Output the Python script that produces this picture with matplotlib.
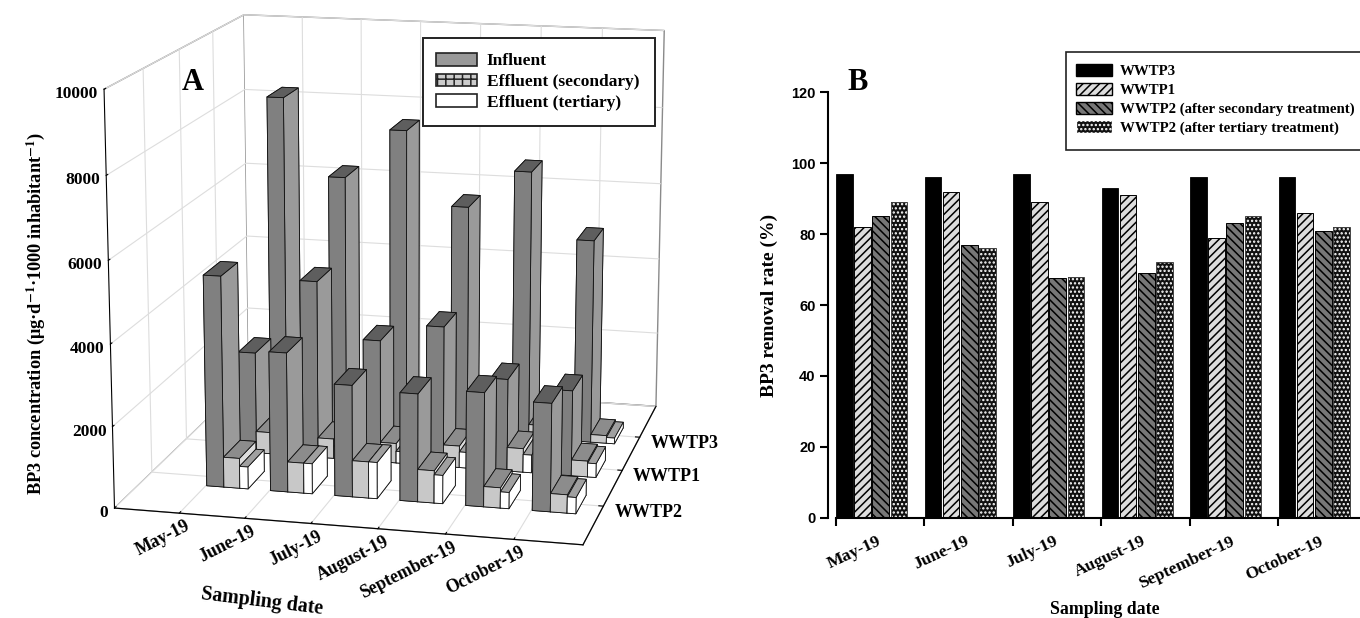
import numpy as np
import matplotlib
matplotlib.use('Agg')
import matplotlib.pyplot as plt
from matplotlib.patches import Patch, Rectangle
from matplotlib.transforms import ScaledTranslation
from mpl_toolkits.mplot3d import proj3d

plt.rcParams['font.family'] = ['Liberation Serif', 'DejaVu Sans']
plt.rcParams['font.weight'] = 'bold'
plt.rcParams['mathtext.fontset'] = 'stix'
plt.rcParams['hatch.linewidth'] = 1.1

months = ['May-19', 'June-19', 'July-19', 'August-19', 'September-19', 'October-19']
plants = ['WWTP2', 'WWTP1', 'WWTP3']

# panel A, ug/d/1000 inhabitant, rows in the order of plants
influent = [[5230, 3450, 2760, 2660, 2800, 2650],
            [2580, 4500, 3100, 3550, 2330, 2150],
            [8500, 6520, 7800, 5920, 6900, 5230]]
secondary = [[750, 750, 900, 800, 500, 450],
             [550, 500, 500, 550, 600, 400],
             [350, 300, 350, 300, 350, 200]]
tertiary = [[550, 750, 900, 700, 400, 400],
            [300, 300, 300, 400, 450, 350],
            [250, 200, 250, 250, 300, 150]]

# panel B, removal rate %
wwtp3_rate = [97, 96, 97, 93, 96, 96]
wwtp1_rate = [82, 92, 89, 91, 79, 86]
secondary_rate = [85, 77, 67.5, 69, 83, 81]
tertiary_rate = [89, 76, 68, 72, 85, 82]

fig = plt.figure(figsize=(13.6, 6.18), dpi=100)
W, H = 1360.0, 618.0

ax = fig.add_axes([20.0 / W, -22.1 / H, 741.0 / W, 741.0 / H], projection='3d')
ax.set_xlim3d(0, 7)
ax.set_ylim3d(0, 4)
ax.set_zlim3d(0, 10000)
ax.view_init(elev=13.76, azim=-76.61)
ax.set_proj_type('persp', focal_length=0.716)
ax.set_box_aspect((0.996, 1, 0.892))
ax.apply_aspect()

ax.computed_zorder = False
for a in (ax.xaxis, ax.yaxis, ax.zaxis):
    a.set_pane_color((1, 1, 1, 1))
    a.pane.set_edgecolor('#8a8a8a')
    a._axinfo['grid']['color'] = '#dddddd'
    a._axinfo['grid']['linewidth'] = 0.8
    a._axinfo['axisline']['color'] = '#333333'
    a._axinfo['tick']['inward_factor'] = 0.0
    a._axinfo['tick']['outward_factor'] = 0.12
ax.patch.set_alpha(0)
ax.zaxis.set_ticks_position('lower')

ax.set_xticks(range(1, 7))
ax.set_yticks([1, 2, 3])
ax.set_zticks(range(0, 10001, 2000))
ax.set_xticklabels([])
ax.set_yticklabels([])
ax.set_zticklabels([])


def label3d(px, py, pz, s, dx, dy, **kw):
    # tick labels of the 3d axes, placed from the projected tick position
    X, Y, _ = proj3d.proj_transform(px, py, pz, ax.get_proj())
    p = ax.transData.transform((X, Y))
    fig.text((p[0] + dx) / W, (p[1] + dy) / H, s, **kw)


for i, name in enumerate(months):
    label3d(i + 1, 0, 0, name, 10, -12, fontsize=12.9, rotation=27, ha='right', va='center',
            rotation_mode='anchor')
for i, name in enumerate(plants):
    label3d(7, i + 1, 0, name, 11, -6, fontsize=13, ha='left', va='center')
for v in range(0, 10001, 2000):
    label3d(0, 0, v, str(v), -6, -5, fontsize=12.5, ha='right', va='center')

# faces: bottom, top, front, back, left, right
infl_col = ['#808080', '#5e5e5e', '#808080', '#808080', '#808080', '#9a9a9a']
sec_col = ['#c8c8c8', '#8c8c8c', '#c8c8c8', '#c8c8c8', '#c8c8c8', '#dddddd']
ter_col = ['#ffffff', '#a0a0a0', '#ffffff', '#ffffff', '#ffffff', '#ffffff']

z = 1
for r in [2, 1, 0]:
    yy = r + 1 - 0.25
    for m in range(6):
        xx = m + 1 + 0.015
        for val, dx, off, col in [(influent[r][m], 0.27, 0.0, infl_col),
                                  (secondary[r][m], 0.25, 0.27, sec_col),
                                  (tertiary[r][m], 0.13, 0.52, ter_col)]:
            ax.bar3d(xx + off, yy, 0, dx, 0.5, val, color=col, edgecolor='#111111',
                     linewidth=0.6, shade=False, zorder=z)
            z += 1

fig.text(262 / W, 1 - 602 / H, 'Sampling date', fontsize=14.4, rotation=-7, ha='center', va='center')
fig.text(36 / W, 1 - 314 / H, 'BP3 concentration (\u03bcg\u00b7d$^{\\mathbf{-1}}$\u00b71000 inhabitant$^{\\mathbf{-1}}$)',
         fontsize=13.2, rotation=90, ha='center', va='center')
fig.text(193 / W, 1 - 83 / H, 'A', fontsize=22, ha='center', va='center')
fig.text(858 / W, 1 - 83 / H, 'B', fontsize=22, ha='center', va='center')

# legend frames are separate so the padding can differ per side
fig.add_artist(Rectangle((423 / W, 1 - 126 / H), 232 / W, 88 / H, transform=fig.transFigure,
                         fc='white', ec='#222222', lw=1.4, zorder=4))
handles_a = [Patch(fc='#999999', ec='#222222', lw=1.2),
             Patch(fc='#cccccc', ec='#222222', lw=1.2, hatch='++'),
             Patch(fc='white', ec='#222222', lw=1.2)]
leg_a = fig.legend(handles_a, ['Influent', 'Effluent (secondary)', 'Effluent (tertiary)'],
                   loc='upper left', bbox_to_anchor=(436 / W, 1 - 53 / H), fontsize=12.5,
                   frameon=False, handlelength=2.36, handleheight=0.75,
                   labelspacing=0.24, borderpad=0, handletextpad=0.57, borderaxespad=0)

# panel B, ticks sit on the left edge of each group
axb = fig.add_axes([828 / W, 1 - 517.7 / H, (1360 - 828) / W, 425.4 / H])
x = np.arange(6)
off = 0.1
step_b = 0.205
bw = 0.188
axb.bar(x + off, wwtp3_rate, bw, color='black', edgecolor='black', linewidth=0.6)
axb.bar(x + off + step_b, wwtp1_rate, bw, color='#dddddd', edgecolor='black', linewidth=0.7, hatch='////')
axb.bar(x + off + 2 * step_b, secondary_rate, bw, color='#777777', edgecolor='black', linewidth=0.7, hatch='\\\\\\\\')
axb.bar(x + off + 3 * step_b, tertiary_rate, bw, color='#111111', edgecolor='white', linewidth=0, hatch='....')
axb.bar(x + off + 3 * step_b, tertiary_rate, bw, fill=False, edgecolor='#444444', linewidth=0.7)
axb.set_xlim(-7.6 / 88.5, (1360 - 835.6) / 88.5)
axb.set_ylim(0, 120)
axb.set_yticks(range(0, 121, 20))
axb.set_yticklabels([str(v) for v in range(0, 121, 20)], family='Liberation Sans', fontsize=10.5)
axb.set_xticks(x)
axb.set_xticklabels(months, rotation=25, ha='right', va='top', rotation_mode='anchor', fontsize=12.6)
axb.tick_params(axis='both', width=1.5, length=5.5)
axb.tick_params(axis='x', pad=5.8)
for label in axb.get_xticklabels():
    label.set_transform(label.get_transform() + ScaledTranslation(0.41, 0, fig.dpi_scale_trans))
axb.spines['top'].set_visible(False)
axb.spines['right'].set_visible(False)
axb.spines['left'].set_linewidth(1.5)
axb.spines['bottom'].set_linewidth(1.5)
axb.spines['bottom'].set_bounds(0, (1360 - 835.6) / 88.5)
axb.set_ylabel('BP3 removal rate (%)', fontsize=14, fontweight='bold', labelpad=9)
fig.text(1105 / W, 1 - 609 / H, 'Sampling date', fontsize=12.8, ha='center', va='center')

fig.add_artist(Rectangle((1066 / W, 1 - 150 / H), 300 / W, 98 / H, transform=fig.transFigure,
                         fc='white', ec='#222222', lw=1.2, zorder=4))
handles_b = [Patch(fc='black', ec='black'),
             Patch(fc='#dddddd', ec='black', hatch='////'),
             Patch(fc='#777777', ec='black', hatch='\\\\\\\\'),
             Patch(fc='#111111', ec='white', hatch='....')]
leg_b = fig.legend(handles_b, ['WWTP3', 'WWTP1', 'WWTP2 (after secondary treatment)', 'WWTP2 (after tertiary treatment)'],
                   loc='upper left', bbox_to_anchor=(1076 / W, 1 - 64 / H), fontsize=10.7,
                   frameon=False, handlelength=2.4, handleheight=0.9,
                   labelspacing=0.3, borderpad=0, handletextpad=0.54, borderaxespad=0)

fig.savefig('out.png', dpi=100)
